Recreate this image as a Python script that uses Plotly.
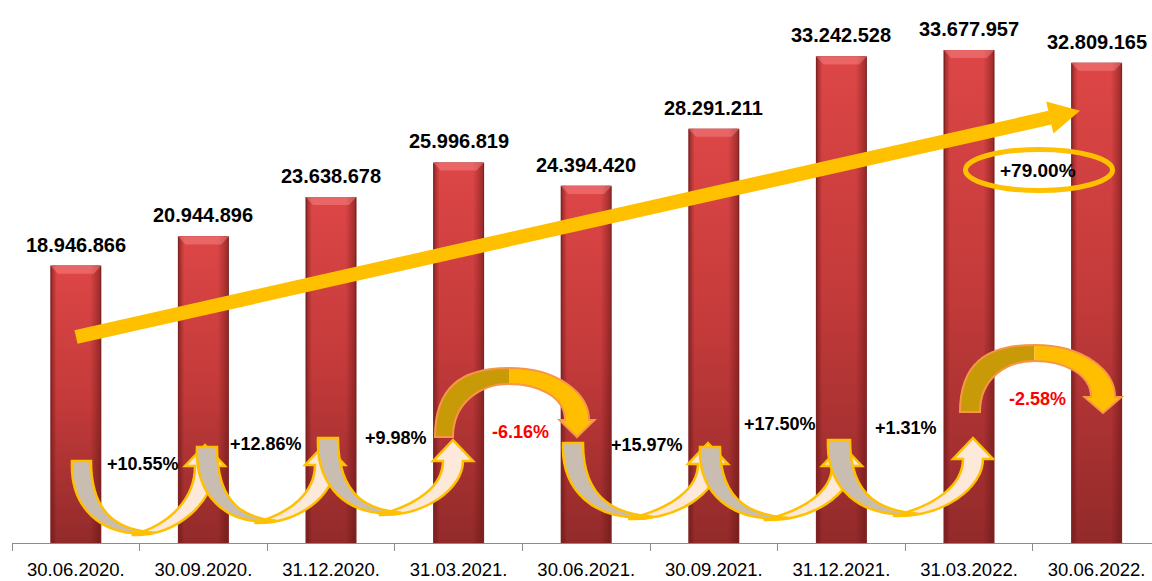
import plotly.graph_objects as go

# data ------------------------------------------------------------------------
dates = ['30.06.2020.', '30.09.2020.', '31.12.2020.', '31.03.2021.', '30.06.2021.',
         '30.09.2021.', '31.12.2021.', '31.03.2022.', '30.06.2022.']
values = [18946866, 20944896, 23638678, 25996819, 24394420,
          28291211, 33242528, 33677957, 32809165]
changes = ['+10.55%', '+12.86%', '+9.98%', '-6.16%', '+15.97%',
           '+17.50%', '+1.31%', '-2.58%']
total_change = '+79.00%'

# layout geometry (pixels) ----------------------------------------------------
W, H = 1152, 581
ML, MR, MT, MB = 12, 0, 0, 38
PW, PH = W - ML - MR, H - MT - MB
CAT = 127.6
BW = 0.40
YMAX = 37.09e6

ARIAL = 'Liberation Sans, Arial, sans-serif'
GOLD = '#FFC000'


def P(x, y):
    return f'{(x - ML) / PW:.5f},{(H - MB - y) / PH:.5f}'


def pp(x, y):
    return (x - ML) / PW, (H - MB - y) / PH


idx = list(range(len(values)))
fig = go.Figure()

# bars ------------------------------------------------------------------------
fig.add_trace(go.Bar(x=idx, y=values, width=BW, marker_color='#7e2222',
                     marker_line_width=0, hoverinfo='skip', showlegend=False))
for i, v in zip(idx, values):
    x0, x1 = i - BW / 2 + 0.012, i + BW / 2 - 0.012
    fig.add_trace(go.Scatter(
        x=[x0, x1, x1, x0, x0], y=[0, 0, v, v, 0], mode='lines', line_width=0,
        fill='toself', hoverinfo='skip', showlegend=False,
        fillgradient=dict(type='vertical', colorscale=[[0, '#922a2a'], [0.5, '#c33a3a'], [1, '#dd4646']])))
    fig.add_trace(go.Scatter(
        x=[x0, x1, x1, x0, x0], y=[0, 0, v, v, 0], mode='lines', line_width=0,
        fill='toself', hoverinfo='skip', showlegend=False,
        fillgradient=dict(type='horizontal', colorscale=[
            [0, 'rgba(90,15,15,0.45)'], [0.1, 'rgba(90,15,15,0)'],
            [0.8, 'rgba(90,15,15,0)'], [1, 'rgba(90,15,15,0.45)']])))
    d, h = 0.06, 0.55e6
    fig.add_trace(go.Scatter(
        x=[i - BW / 2, i + BW / 2, i + BW / 2 - d, i - BW / 2 + d, i - BW / 2],
        y=[v, v, v - h, v - h, v], mode='lines', line_width=0, fill='toself',
        fillcolor='rgba(255,150,150,0.40)', hoverinfo='skip', showlegend=False))
    fig.add_annotation(x=i, y=v, xref='x', yref='y', text=f'{v:,}'.replace(',', '.'),
                       showarrow=False, yshift=21, xanchor='center', yanchor='middle',
                       font=dict(family=ARIAL, size=20, color='black', weight='bold'))

shapes = []

# curved arrows between bars ---------------------------------------------------
def u_arrow(xl, xr, yt, yb, hx, hy):
    Hh = yb - yt
    s = hx - xl
    xm = xl + 0.5 * s
    hb = hy + 21
    hw, sw = 20, 10
    cream = (f'M{P(xm - 0.05 * s, yb)} C{P(xm + 0.3 * s, yb + 0.02 * Hh)} '
             f'{P(hx + sw, hb + 0.5 * (yb - hb))} {P(hx + sw, hb)} L{P(hx + hw, hb)} '
             f'L{P(hx, hy)} L{P(hx - hw, hb)} L{P(hx - sw, hb)} '
             f'C{P(hx - sw, hb + 0.45 * (yb - hb))} {P(xm + 0.25 * s, yb - 0.14 * Hh)} '
             f'{P(xm - 0.05 * s, yb)} Z')
    gray = (f'M{P(xl, yt)} L{P(xr, yt)} C{P(xr, yt + 0.8 * Hh)} {P(xm - 0.1 * s, yb - 0.06 * Hh)} '
            f'{P(xm + 0.12 * s, yb - 0.03 * Hh)} C{P(xm - 0.3 * s, yb + 0.05 * Hh)} '
            f'{P(xl - 2, yt + 0.6 * Hh)} {P(xl, yt)} Z')
    return [
        dict(type='path', path=cream, xref='paper', yref='paper', fillcolor='#fde9d9',
             line=dict(color=GOLD, width=2.5)),
        dict(type='path', path=gray, xref='paper', yref='paper', fillcolor='#c9bdb2',
             line=dict(color=GOLD, width=2.5)),
    ]


def n_arrow(xl, xr, yf, yt, hx, hy, hw, hl):
    w = hx - xl
    xc = xl + 0.5 * w + 3
    hb = hy - hl
    sw, th = 12, 16
    left = (f'M{P(xl, yf)} L{P(xr, yf)} C{P(xr, yt + 0.5 * (yf - yt))} '
            f'{P(xc - 0.2 * w, yt + th)} {P(xc, yt + th)} L{P(xc, yt)} '
            f'C{P(xc - 0.35 * w, yt)} {P(xl, yt + 0.3 * (yf - yt))} {P(xl, yf)} Z')
    right = (f'M{P(xc, yt)} C{P(xc + 0.35 * w, yt)} {P(hx + sw, hb - 0.5 * (hb - yt))} '
             f'{P(hx + sw, hb)} L{P(hx + hw, hb)} L{P(hx, hy)} L{P(hx - hw, hb)} L{P(hx - sw, hb)} '
             f'C{P(hx - sw, hb - 0.45 * (hb - yt))} {P(xc + 0.2 * w, yt + th)} {P(xc, yt + th)} Z')
    outline = (f'M{P(xl, yf)} L{P(xr, yf)} C{P(xr, yt + 0.5 * (yf - yt))} '
               f'{P(xc - 0.2 * w, yt + th)} {P(xc, yt + th)} '
               f'C{P(xc + 0.2 * w, yt + th)} {P(hx - sw, hb - 0.45 * (hb - yt))} {P(hx - sw, hb)} '
               f'L{P(hx - hw, hb)} L{P(hx, hy)} L{P(hx + hw, hb)} L{P(hx + sw, hb)} '
               f'C{P(hx + sw, hb - 0.5 * (hb - yt))} {P(xc + 0.35 * w, yt)} {P(xc, yt)} '
               f'C{P(xc - 0.35 * w, yt)} {P(xl, yt + 0.3 * (yf - yt))} {P(xl, yf)} Z')
    return [
        dict(type='path', path=left, xref='paper', yref='paper', fillcolor='#c99a08', line_width=0),
        dict(type='path', path=right, xref='paper', yref='paper', fillcolor='#ffbf00', line_width=0),
        dict(type='path', path=outline, xref='paper', yref='paper', fillcolor='rgba(0,0,0,0)',
             line=dict(color='#f79646', width=2)),
    ]


shapes += u_arrow(72, 91, 461, 535, 205, 445)
shapes += u_arrow(197, 217, 447, 523, 325, 444)
shapes += u_arrow(318, 338, 438, 515, 453, 440)
shapes += n_arrow(435, 453, 437, 368, 577, 437, 17.5, 17)
shapes += u_arrow(563, 583, 443, 519, 708, 443)
shapes += u_arrow(700, 720, 447, 520, 842, 445)
shapes += u_arrow(828, 850, 440, 516, 973, 438)
shapes += n_arrow(960, 980, 412, 345, 1103, 413, 18.5, 16)

# big trend arrow --------------------------------------------------------------
x0p, y0p = pp(76, 337)
x1p, y1p = pp(1050, 117.6)
shapes.append(dict(type='line', xref='paper', yref='paper', x0=x0p, y0=y0p, x1=x1p, y1=y1p,
                   line=dict(color=GOLD, width=14)))
shapes.append(dict(type='path', xref='paper', yref='paper', fillcolor=GOLD, line_width=0,
                   path=f'M{P(1046.2, 101.5)} L{P(1080, 110.8)} L{P(1053.4, 133.6)} Z'))
ex0, ey0 = pp(965.5, 190.5)
ex1, ey1 = pp(1112.5, 149.5)
shapes.append(dict(type='circle', xref='paper', yref='paper', x0=ex0, y0=ey0, x1=ex1, y1=ey1,
                   line=dict(color=GOLD, width=5)))
fig.update_layout(shapes=shapes)

# percentage labels ------------------------------------------------------------
label_px = [(143, 464), (266, 444), (396, 438), (520, 432), (647, 445),
            (780, 424), (906, 428), (1037, 399)]
for txt, (lx, ly) in zip(changes, label_px):
    ax, ay = pp(lx, ly)
    fig.add_annotation(x=ax, y=ay, xref='paper', yref='paper', text=txt, showarrow=False,
                       xanchor='center', yanchor='middle',
                       font=dict(family=ARIAL, size=18, weight='bold',
                                 color='#ff0000' if txt.startswith('-') else 'black'))
ax, ay = pp(1038, 171)
fig.add_annotation(x=ax, y=ay, xref='paper', yref='paper', text=total_change, showarrow=False,
                   xanchor='center', yanchor='middle',
                   font=dict(family=ARIAL, size=19, weight='bold', color='black'))

# axes -------------------------------------------------------------------------
fig.update_xaxes(
    range=[-0.5, -0.5 + PW / CAT], tickvals=idx, ticktext=dates, ticks='',
    showline=True, linecolor='#8c8c8c', linewidth=1.3, showgrid=False, zeroline=False,
    tickfont=dict(family=ARIAL, size=18.5, color='black'), ticklabelstandoff=10,
    minor=dict(tickvals=[i - 0.5 for i in idx], ticks='outside', ticklen=7,
               tickcolor='#8c8c8c', tickwidth=1.3, showgrid=False))
fig.update_yaxes(range=[0, YMAX], visible=False)
fig.update_layout(
    width=W, height=H, margin=dict(l=ML, r=MR, t=MT, b=MB),
    plot_bgcolor='white', paper_bgcolor='white', barmode='overlay', showlegend=False)

fig.write_html('out.html', config={'displayModeBar': False},
               post_script="document.body.style.margin='0px';")
